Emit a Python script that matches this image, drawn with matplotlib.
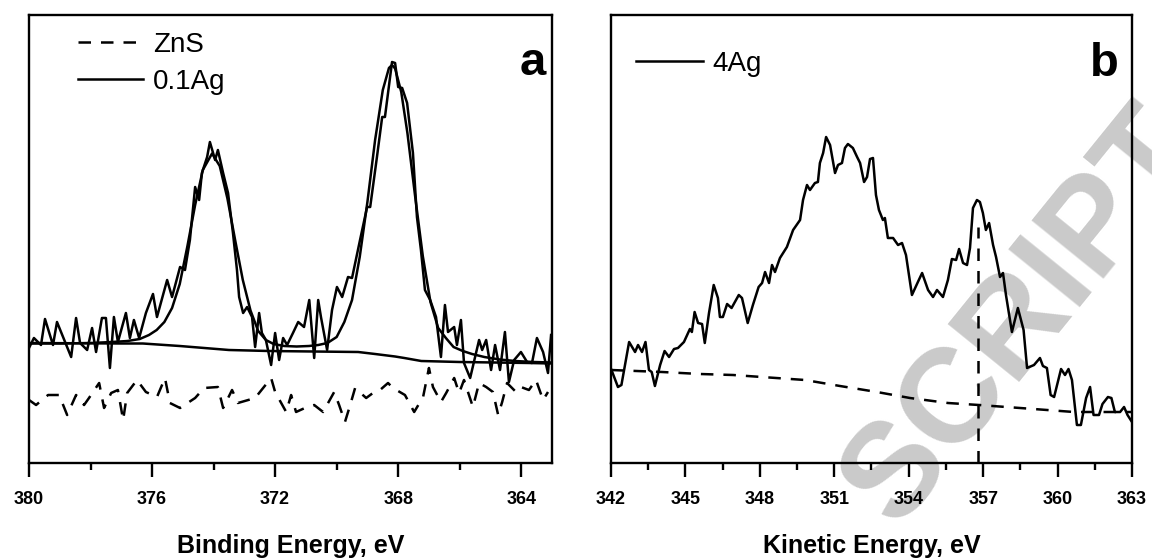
import matplotlib
matplotlib.use("Agg")
import matplotlib.pyplot as plt
from matplotlib.ticker import MultipleLocator

plt.rcParams['font.family'] = ['Liberation Sans', 'DejaVu Sans']

# ---------------- Panel a : Ag 3d XPS ----------------
ag01_E = [380.00, 379.84, 379.61, 379.48, 379.22, 379.09, 378.63, 378.47, 378.34, 378.11,
          377.95, 377.82, 377.63, 377.50, 377.37, 377.24, 377.11, 376.85, 376.72, 376.59,
          376.42, 376.20, 375.97, 375.84, 375.51, 375.35, 375.09, 374.93, 374.77, 374.60,
          374.47, 374.38, 374.21, 374.12, 373.95, 373.86, 373.69, 373.53, 373.37, 373.24,
          373.17, 373.04, 372.91, 372.75, 372.65, 372.52, 372.43, 372.30, 372.13, 372.00,
          371.87, 371.74, 371.61, 371.42, 371.25, 371.06, 370.89, 370.73, 370.60, 370.51,
          370.31, 370.15, 369.99, 369.82, 369.63, 369.50, 369.24, 369.01, 368.91, 368.69,
          368.52, 368.43, 368.20, 368.10, 368.00, 367.87, 367.71, 367.52, 367.39, 367.26,
          367.13, 366.96, 366.77, 366.61, 366.48, 366.38, 366.18, 366.09, 365.96, 365.86,
          365.66, 365.50, 365.37, 365.27, 365.14, 364.98, 364.85, 364.69, 364.53, 364.40,
          364.23, 364.01, 363.81, 363.65, 363.49, 363.29, 363.13, 363.03]
ag01_I = [115, 125, 118, 144, 118, 141, 106, 145, 120, 113,
          135, 111, 145, 145, 95, 146, 121, 150, 125, 143,
          125, 150, 169, 146, 183, 166, 196, 193, 223, 276,
          263, 290, 306, 321, 303, 313, 290, 270, 230, 193,
          166, 150, 156, 146, 116, 150, 130, 123, 98, 130,
          103, 125, 118, 130, 141, 136, 163, 105, 163, 146,
          113, 153, 176, 166, 186, 185, 223, 256, 256, 306,
          346, 346, 401, 400, 376, 375, 360, 310, 246, 213,
          173, 163, 146, 106, 158, 131, 136, 118, 143, 100,
          85, 106, 123, 113, 123, 93, 118, 93, 131, 81,
          103, 111, 101, 100, 125, 111, 90, 128]

fit_E = [380.0, 379.0, 378.0, 377.3, 376.8, 376.4, 376.1, 375.85, 375.6, 375.35,
         375.1, 374.85, 374.6, 374.35, 374.05, 373.8, 373.55, 373.3, 373.05, 372.8,
         372.55, 372.3, 372.05, 371.7, 371.3, 370.9, 370.6, 370.3, 370.0, 369.75,
         369.5, 369.25, 369.0, 368.75, 368.5, 368.3, 368.2, 368.1, 367.9, 367.7,
         367.45, 367.2, 366.95, 366.7, 366.45, 366.2, 365.9, 365.6, 365.2, 364.7,
         364.2, 363.6, 363.0]
fit_I = [119.5, 119.5, 120, 121, 122, 124, 128, 133, 141, 155,
         179, 217, 258, 293, 309.5, 297, 264.5, 223, 183, 152.5,
         132, 123, 119, 117, 116.5, 117, 118, 120, 126, 141,
         163, 206, 261, 323, 373, 395, 398, 394.5, 371, 330,
         267, 207, 161, 135, 125, 116, 112, 109, 106, 103.5,
         102, 101, 100.5]

bg_E = [380.0, 377.0, 376.3, 375.1, 374.1, 373.5, 372.2, 369.3, 368.75, 368.1,
        367.8, 367.25, 366.0, 363.75, 363.0]
bg_I = [120, 119.5, 119.5, 117, 114.5, 113, 112, 111, 109, 106.5,
        105, 102, 101, 100, 99.5]

zns_E = [380.00, 379.77, 379.38, 379.02, 378.76, 378.47, 378.21, 378.05, 377.72, 377.56,
         377.33, 377.11, 376.94, 376.81, 376.49, 376.20, 375.84, 375.58, 375.42, 375.09,
         374.60, 374.31, 373.86, 373.69, 373.40, 373.21, 372.65, 372.13, 372.00, 371.64,
         371.48, 371.32, 370.96, 370.73, 370.44, 370.08, 369.92, 369.73, 369.56, 369.40,
         369.04, 368.82, 368.59, 368.33, 368.17, 367.78, 367.48, 367.19, 367.00, 366.87,
         366.61, 366.44, 366.18, 366.02, 365.86, 365.57, 365.37, 365.14, 364.92, 364.75,
         364.62, 364.46, 364.17, 364.01, 363.75, 363.52, 363.29, 363.13]
zns_I = [63, 58, 68, 68, 48, 68, 58, 65, 80, 55,
         70, 73, 43, 70, 83, 71, 66, 85, 60, 55,
         65, 75, 76, 55, 73, 60, 65, 85, 71, 51,
         68, 51, 56, 58, 51, 71, 58, 41, 58, 75,
         65, 70, 73, 80, 75, 68, 51, 66, 95, 76,
         61, 70, 85, 70, 83, 56, 80, 76, 71, 48,
         61, 80, 71, 76, 73, 83, 63, 71]

ticks_a = [380, 376, 372, 368, 364]

# ---------------- Panel b : Ag MNN Auger ----------------
ag4_E = [342.02, 342.28, 342.42, 342.73, 342.97, 343.09, 343.25, 343.39, 343.53, 343.64,
         343.77, 343.98, 344.16, 344.34, 344.54, 344.70, 344.94, 345.18, 345.26, 345.37,
         345.51, 345.67, 345.78, 345.95, 346.14, 346.31, 346.39, 346.51, 346.68, 346.86,
         347.15, 347.28, 347.51, 347.72, 347.95, 348.09, 348.21, 348.37, 348.49, 348.61,
         348.81, 349.09, 349.34, 349.62, 349.74, 349.90, 350.02, 350.22, 350.34, 350.42,
         350.55, 350.67, 350.83, 351.03, 351.15, 351.31, 351.43, 351.55, 351.75, 351.92,
         352.04, 352.20, 352.32, 352.44, 352.56, 352.68, 352.80, 352.96, 353.04, 353.16,
         353.37, 353.57, 353.73, 353.89, 354.13, 354.37, 354.54, 354.78, 354.98, 355.14,
         355.38, 355.58, 355.74, 355.91, 356.03, 356.19, 356.35, 356.47, 356.59, 356.75,
         356.87, 356.99, 357.11, 357.24, 357.40, 357.52, 357.68, 357.80, 357.92, 358.16,
         358.40, 358.63, 358.77, 359.05, 359.29, 359.41, 359.57, 359.72, 359.86, 360.14,
         360.30, 360.44, 360.58, 360.78, 360.94, 361.15, 361.31, 361.45, 361.67, 361.81,
         362.03, 362.17, 362.31, 362.52, 362.68, 362.82, 363.00]
ag4_I = [93, 76, 78, 121, 111, 118, 111, 121, 93, 91,
         77, 98, 112, 106, 114, 115, 121, 134, 131, 151,
         140, 139, 120, 150, 178, 165, 146, 146, 159, 155,
         168, 165, 140, 158, 176, 180, 191, 180, 198, 191,
         205, 216, 233, 243, 263, 278, 273, 280, 281, 300,
         310, 326, 318, 290, 298, 300, 315, 319, 315, 306,
         300, 281, 286, 304, 305, 268, 253, 243, 245, 225,
         225, 218, 220, 208, 168, 181, 190, 173, 166, 173,
         166, 183, 204, 203, 214, 200, 198, 215, 255, 263,
         261, 250, 233, 240, 218, 206, 186, 190, 168, 131,
         155, 133, 95, 98, 105, 97, 95, 68, 66, 94,
         88, 94, 83, 38, 38, 65, 76, 48, 48, 59,
         66, 65, 51, 51, 56, 48, 41]

bgb_E = [342.0, 344.06, 345.59, 346.92, 349.82, 351.23, 352.72, 354.05, 355.58, 356.83,
         358.49, 360.66, 363.0]
bgb_I = [93, 91, 89, 88, 83, 77, 71, 65, 60, 58, 55, 51, 51]

peak_line_E = 356.8
peak_line_top = 236

ticks_b = [342, 345, 348, 351, 354, 357, 360, 363]

# ---------------- Figure ----------------
fig = plt.figure(figsize=(11.52, 5.6), dpi=100)
ax1 = fig.add_axes([29 / 1152, 97 / 560, 523 / 1152, 448 / 560])
ax2 = fig.add_axes([611 / 1152, 97 / 560, 521 / 1152, 448 / 560])

# watermark (behind the data)
fig.text(0.888, 0.432, 'SCRIPT', rotation=51, ha='center', va='center',
         fontsize=96, fontweight='bold', color='#cacaca', zorder=-5)

dash = (0, (5, 4))
lw = 1.8
ax1.plot(zns_E, zns_I, color='black', lw=lw, ls=dash, label='ZnS')
ax1.plot(ag01_E, ag01_I, color='black', lw=lw, label='0.1Ag')
ax1.plot(fit_E, fit_I, color='black', lw=lw)
ax1.plot(bg_E, bg_I, color='black', lw=lw)

ax2.plot(ag4_E, ag4_I, color='black', lw=lw, label='4Ag')
ax2.plot(bgb_E, bgb_I, color='black', lw=lw, ls=dash)
ax2.plot([peak_line_E, peak_line_E], [0, peak_line_top], color='black', lw=lw, ls=dash)

ax1.set_xlim(380, 363)
ax2.set_xlim(342, 363)
for ax in (ax1, ax2):
    ax.set_ylim(0, 448)
    ax.set_yticks([])
    ax.patch.set_visible(False)
    for s in ax.spines.values():
        s.set_linewidth(1.7)
    ax.tick_params(axis='x', which='major', direction='out', length=10, width=1.7, pad=10)
    ax.tick_params(axis='x', which='minor', direction='out', length=5, width=1.7)

ax1.set_xticks(ticks_a)
ax1.set_xticklabels([str(t) for t in ticks_a], fontsize=13, fontweight='bold')
ax1.xaxis.set_minor_locator(MultipleLocator(2))
ax2.set_xticks(ticks_b)
ax2.set_xticklabels([str(t) for t in ticks_b], fontsize=13, fontweight='bold')
ax2.xaxis.set_minor_locator(MultipleLocator(1.5))

ax1.set_xlabel('Binding Energy, eV', fontsize=18, fontweight='bold', labelpad=19)
ax2.set_xlabel('Kinetic Energy, eV', fontsize=18, fontweight='bold', labelpad=19)

ax1.legend(loc='upper left', bbox_to_anchor=(0.094, 0.962), frameon=False, fontsize=20,
           handlelength=2.35, handletextpad=0.35, labelspacing=0.38, borderpad=0,
           borderaxespad=0)
ax2.legend(loc='upper left', bbox_to_anchor=(0.048, 0.92), frameon=False, fontsize=20,
           handlelength=2.4, handletextpad=0.35, borderpad=0, borderaxespad=0)

ax1.text(0.9885, 0.866, 'a', transform=ax1.transAxes, ha='right', va='baseline',
         fontsize=34, fontweight='bold')
ax2.text(0.975, 0.864, 'b', transform=ax2.transAxes, ha='right', va='baseline',
         fontsize=34, fontweight='bold')

fig.savefig('out.png', dpi=100)
